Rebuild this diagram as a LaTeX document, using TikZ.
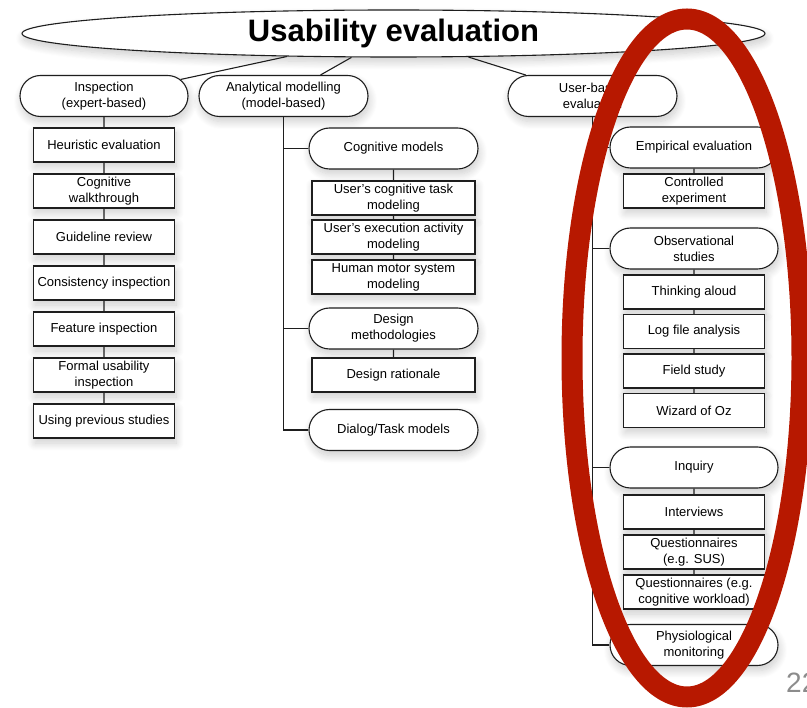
\documentclass[tikz,border=0pt]{standalone}
\usepackage{fontspec}
\setmainfont{Liberation Sans}
\usetikzlibrary{shapes.geometric,shapes.misc,shadows.blur}
\definecolor{ringred}{RGB}{183,24,0}
\definecolor{edge}{RGB}{30,30,30}
\definecolor{pagegray}{RGB}{140,140,140}
\begin{document}
\begin{tikzpicture}[x=1pt,y=-1pt,
  soft/.style={blur shadow={shadow xshift=1.5pt,shadow yshift=-5pt,shadow blur radius=8pt,shadow opacity=20,shadow blur steps=10}},
  base/.style={draw=edge, line width=1.1pt, fill=white, align=center, inner sep=0pt,
    font=\fontsize{13}{16}\selectfont, soft},
  pill/.style={base, rounded rectangle, minimum height=41pt},
  box/.style={base, rectangle, minimum height=34pt},
  link/.style={draw=edge, line width=1.1pt},
]
\useasboundingbox (0,0) rectangle (807,708);
\clip (0,0) rectangle (807,708);

% root
\node[ellipse, draw=edge, line width=1.1pt, fill=white, inner sep=0pt,
  minimum width=743pt, minimum height=47pt, soft,
  font=\fontsize{31}{36}\selectfont\bfseries] (root) at (393.5,33.5) {\raisebox{-3.5pt}{Usability evaluation}};

% three families
\node[pill, minimum width=168pt] (insp) at (104,96) {Inspection\\(expert-based)};
\node[pill, minimum width=169pt] (ana) at (283.5,96) {Analytical modelling\\(model-based)};
\node[pill, minimum width=169pt] (ub) at (592.5,96) {User-based\\evaluation};

% inspection methods
\begin{scope}[every node/.style={box, minimum width=141pt}]
\node (he) at (104,145) {Heuristic evaluation};
\node (cw) at (104,191) {Cognitive\\walkthrough};
\node (gr) at (104,237) {Guideline review};
\node (ci) at (104,283) {Consistency inspection};
\node (fi) at (104,329) {Feature inspection};
\node (fu) at (104,375) {Formal usability\\inspection};
\node (up) at (104,421) {Using previous studies};
\end{scope}

% analytical modelling
\node[pill, minimum width=169pt] (cm) at (393.5,148.5) {Cognitive models};
\node[box, minimum width=163pt] (ct) at (393.5,198) {User's cognitive task\\modeling};
\node[box, minimum width=163pt] (ea) at (393.5,237) {User's execution activity\\modeling};
\node[box, minimum width=163pt] (hm) at (393.5,277) {Human motor system\\modeling};
\node[pill, minimum width=169pt] (dm) at (393.5,328.5) {Design\\methodologies};
\node[box, minimum width=163pt] (dr) at (393.5,375) {Design rationale};
\node[pill, minimum width=169pt] (dt) at (393.5,430) {Dialog/Task models};

% user-based evaluation
\node[pill, minimum width=168pt] (emp) at (694,147.5) {Empirical evaluation};
\node[box, minimum width=141pt] (ce) at (694,191) {Controlled\\experiment};
\node[pill, minimum width=168pt] (obs) at (694,248.5) {Observational\\studies};
\node[box, minimum width=141pt] (ta) at (694,292) {Thinking aloud};
\node[box, minimum width=141pt] (lf) at (694,331.5) {Log file analysis};
\node[box, minimum width=141pt] (fs) at (694,371) {Field study};
\node[box, minimum width=141pt] (wz) at (694,410.5) {Wizard of Oz};
\node[pill, minimum width=168pt] (inq) at (694,467.5) {Inquiry};
\node[box, minimum width=141pt] (iv) at (694,512) {Interviews};
\node[box, minimum width=141pt] (qs) at (694,552) {Questionnaires\\(e.g. SUS)};
\node[box, minimum width=141pt] (qw) at (694,592) {Questionnaires (e.g.\\cognitive workload)};
\node[pill, minimum width=168pt] (phys) at (694,645) {Physiological\\monitoring};

% connectors
\draw[link] (root) -- (insp);
\draw[link] (root) -- (ana);
\draw[link] (root) -- (ub);

\draw[link] (insp) -- (he) -- (cw) -- (gr) -- (ci) -- (fi) -- (fu) -- (up);

\draw[link] (ana.south) |- (dt.west);
\draw[link] (ana.south |- cm.west) -- (cm.west);
\draw[link] (ana.south |- dm.west) -- (dm.west);
\draw[link] (cm) -- (ct) -- (ea) -- (hm);
\draw[link] (dm) -- (dr);

\draw[link] (ub.south) |- (phys.west);
\draw[link] (ub.south |- emp.west) -- (emp.west);
\draw[link] (ub.south |- obs.west) -- (obs.west);
\draw[link] (ub.south |- inq.west) -- (inq.west);
\draw[link] (emp) -- (ce);
\draw[link] (obs) -- (ta) -- (lf) -- (fs) -- (wz);
\draw[link] (inq) -- (iv) -- (qs) -- (qw);

% hand-drawn highlight ring
\draw[ringred, line width=21pt] (687,358) ellipse [x radius=115, y radius=339];

% page number
\node[anchor=base west, inner sep=0pt, text=pagegray, font=\fontsize{28}{28}\selectfont] (pnum) at (786,693) {22};
\end{tikzpicture}
\end{document}
